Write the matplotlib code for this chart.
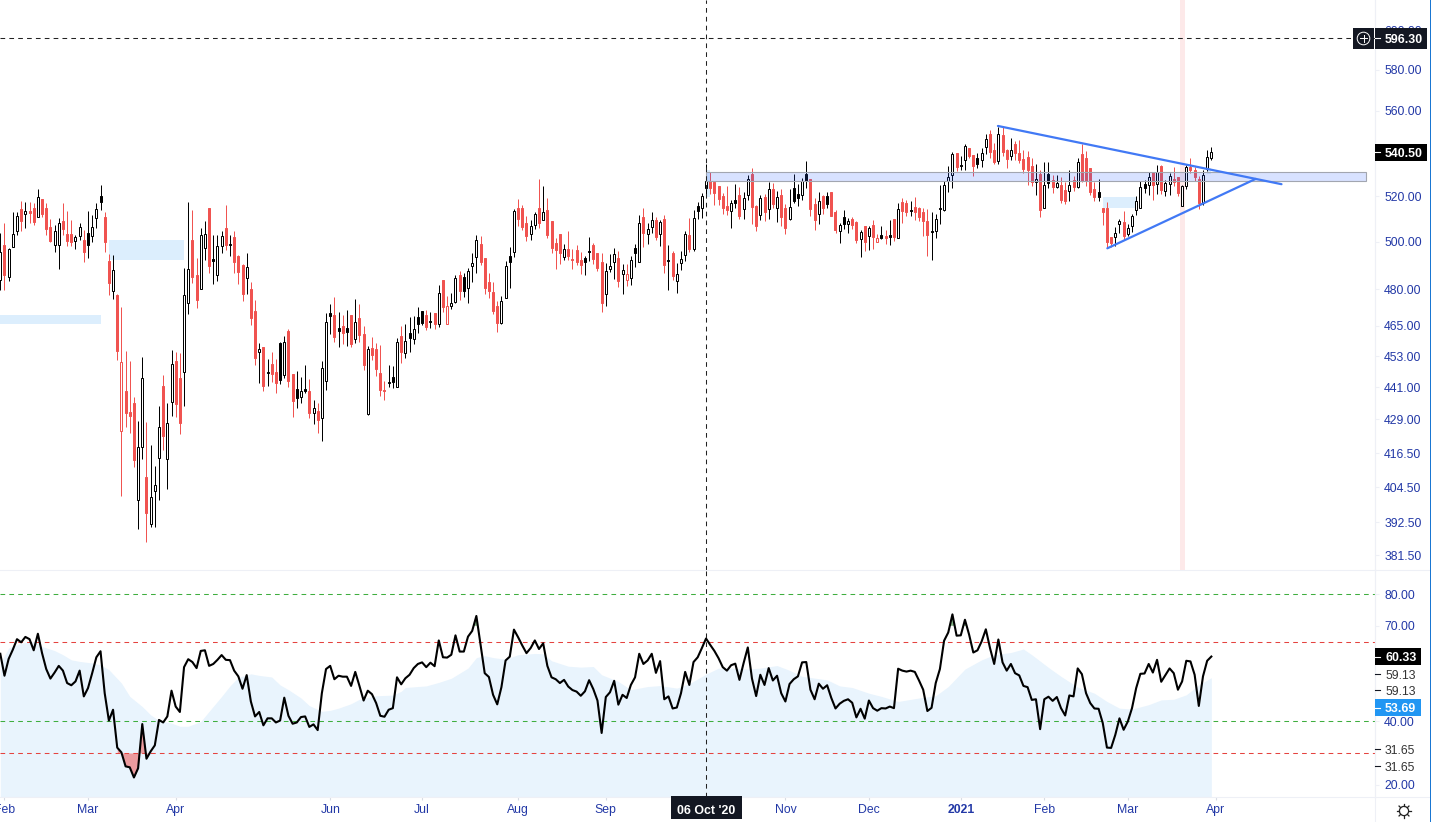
import numpy as np
from matplotlib import pyplot as plt
from matplotlib.patches import Rectangle, Circle
from matplotlib.ticker import NullLocator

plt.rcParams["font.family"] = ["Liberation Sans", "DejaVu Sans"]

# candles, one entry per trading day, values
highs = [
    503.9,508.2,497.4,513.0,513.0,518.0,517.5,517.5,517.0,523.4,
    518.8,517.0,509.9,507.3,510.4,517.0,513.5,509.5,503.0,508.2,
    505.2,513.5,511.7,517.0,525.1,513.0,494.8,494.4,477.9,472.6,
    455.0,451.1,437.3,428.3,452.7,428.0,419.6,412.0,433.9,445.7,
    435.1,455.4,454.6,454.2,488.8,517.5,513.9,493.1,506.1,509.1,
    514.8,503.0,503.0,504.8,516.2,503.0,504.8,494.4,490.5,495.2,
    483.0,475.5,458.2,456.6,451.9,454.6,451.9,458.6,461.0,463.8,
    446.1,447.2,444.9,449.5,444.2,436.2,435.1,451.1,470.2,473.9,
    476.7,470.6,469.4,471.4,469.4,475.9,473.9,465.0,457.0,460.6,
    458.2,457.4,443.4,449.5,449.1,460.2,465.0,465.8,468.6,469.0,
    472.6,471.0,471.4,470.6,470.2,481.7,483.8,477.1,478.4,485.9,
    487.6,486.7,488.8,495.2,503.0,502.5,493.1,486.7,483.0,475.1,
    477.1,491.8,497.8,514.4,518.8,516.2,511.3,509.5,513.0,527.9,
    524.7,519.3,509.1,501.7,503.4,499.1,504.8,496.9,498.6,495.6,
    493.9,502.1,499.5,495.2,495.2,490.9,494.8,497.4,496.1,490.5,
    490.5,493.9,499.1,511.7,514.8,508.2,513.0,510.8,509.5,511.7,
    498.6,496.1,490.9,496.1,504.8,510.4,513.9,517.5,521.5,534.8,
    531.1,526.9,524.7,521.5,524.7,518.4,525.6,524.2,522.0,529.7,
    532.9,516.2,520.6,521.1,526.5,526.0,522.5,523.4,516.6,523.4,
    530.2,525.6,528.3,536.1,527.9,519.3,522.0,520.6,522.0,522.0,
    513.9,508.2,513.9,510.4,510.8,509.1,505.2,506.9,506.9,509.5,
    503.4,506.9,505.2,509.5,509.9,517.0,519.3,518.4,518.0,519.7,
    515.2,514.8,514.4,513.0,512.1,525.1,526.9,533.8,540.4,539.9,
    538.5,544.1,542.2,539.0,539.9,542.2,548.8,550.7,544.6,552.1,
    552.6,541.8,546.9,545.5,546.0,541.3,540.8,537.5,534.8,532.0,
    535.7,535.7,529.7,529.7,528.8,526.5,532.0,529.2,537.5,544.1,
    540.8,532.9,526.5,527.9,514.8,517.5,502.1,506.5,509.9,513.5,
    507.8,512.1,520.2,526.9,527.4,531.1,531.1,534.3,534.3,527.4,
    530.6,533.4,528.8,525.1,534.3,537.5,533.4,529.2,532.0,541.3,
    542.7,
]
tops = [
    495.6,498.6,496.9,503.4,511.3,514.4,513.5,513.5,514.8,519.7,
    518.8,514.8,506.5,504.8,508.2,509.1,503.4,503.4,502.1,506.5,
    500.8,503.9,506.5,514.4,520.2,510.8,491.8,488.0,477.5,450.7,
    439.6,431.7,435.1,418.9,444.6,408.1,401.1,405.3,426.1,441.5,
    427.6,449.9,451.1,444.6,477.5,488.4,500.8,485.9,503.0,503.4,
    514.8,492.6,498.2,502.5,506.1,499.1,502.1,493.9,490.1,489.3,
    480.0,471.0,455.8,456.6,446.8,449.9,446.8,458.2,458.6,463.0,
    446.1,440.4,439.6,440.4,439.6,433.2,432.0,448.4,466.6,470.2,
    469.4,464.2,465.0,464.2,469.4,466.6,468.2,461.8,455.8,456.2,
    455.8,446.5,440.0,443.0,444.9,458.6,461.0,459.0,462.2,463.8,
    468.6,471.0,469.4,467.0,470.2,478.4,483.8,473.0,474.3,484.6,
    485.9,485.1,487.6,490.9,500.8,499.1,493.1,483.0,478.8,473.0,
    475.1,489.7,493.9,513.5,514.8,514.8,508.2,506.9,512.1,514.8,
    513.0,513.9,509.1,499.5,503.4,496.9,496.9,492.6,496.5,492.2,
    493.1,496.1,498.6,495.2,491.4,487.6,489.7,494.8,493.1,488.0,
    486.3,492.2,497.4,508.2,510.8,505.6,509.5,509.5,508.6,509.9,
    492.2,495.2,486.3,492.6,503.4,503.0,510.4,515.7,520.2,526.9,
    526.9,526.5,524.7,520.2,515.7,517.0,518.4,520.6,519.3,527.9,
    530.2,515.7,519.3,519.7,523.4,523.4,519.7,520.6,514.8,515.2,
    523.8,521.1,526.9,530.2,527.9,516.6,518.0,520.2,520.2,522.0,
    513.0,507.3,510.8,509.1,509.9,508.6,504.3,506.9,506.1,507.3,
    501.7,503.0,502.5,503.0,509.9,514.4,517.5,517.0,513.9,515.2,
    514.8,513.0,509.1,504.8,509.9,514.8,525.1,528.8,539.4,539.9,
    534.3,543.2,542.2,539.0,537.5,539.9,546.5,548.8,541.3,548.8,
    548.4,541.3,541.3,544.1,539.9,537.1,538.0,533.8,527.9,530.2,
    525.1,530.2,527.4,526.0,525.1,522.9,525.1,527.4,535.7,539.4,
    537.5,532.9,523.4,522.0,514.8,514.8,502.1,503.9,509.1,508.6,
    506.1,511.3,518.0,524.2,525.6,528.8,531.1,531.1,533.8,526.0,
    529.2,527.9,528.8,524.7,533.4,533.4,532.0,527.9,529.7,538.0,
    540.4,
]
bottoms = [
    483.8,485.9,485.1,497.8,504.8,509.1,512.1,512.6,508.6,510.8,
    512.1,505.6,500.4,498.6,498.6,505.6,500.4,500.0,500.4,502.5,
    495.6,498.6,502.5,510.4,517.5,500.0,482.5,479.2,455.0,424.6,
    431.3,430.2,414.2,400.1,418.9,395.7,391.9,403.2,414.9,422.8,
    414.6,435.4,434.7,427.6,446.8,474.3,485.1,475.5,480.0,497.4,
    489.7,491.8,485.9,498.2,498.6,498.6,491.4,487.2,477.9,484.6,
    468.2,452.3,454.6,441.5,446.5,446.1,442.7,443.8,445.7,443.4,
    435.8,437.0,437.3,439.6,431.3,431.3,428.7,429.4,443.4,469.0,
    460.6,463.0,462.2,462.6,457.8,459.8,461.4,449.5,430.9,453.4,
    448.0,440.0,439.6,442.7,443.0,441.1,454.6,454.2,460.2,459.8,
    465.8,466.2,464.6,466.6,465.8,465.8,472.6,465.8,473.0,474.7,
    479.2,479.2,480.4,489.7,493.5,491.4,480.4,479.2,471.0,466.2,
    466.2,476.3,491.4,495.6,509.9,506.5,502.5,503.4,507.3,508.2,
    509.5,503.0,497.4,496.5,495.2,493.5,493.9,492.2,491.4,490.1,
    491.4,495.6,492.6,488.8,474.3,477.9,488.4,491.4,483.4,486.3,
    483.8,484.6,495.2,491.4,503.9,503.4,506.5,502.1,503.4,490.1,
    491.8,485.5,483.4,490.9,494.4,496.9,496.9,513.5,514.8,523.8,
    523.8,521.5,518.8,514.8,513.9,513.5,517.0,511.3,514.4,520.6,
    515.2,506.9,511.7,513.0,514.4,516.6,514.8,510.8,506.1,509.9,
    518.0,519.3,520.6,526.9,514.4,509.5,512.1,514.8,516.6,511.3,
    505.2,504.8,507.8,507.8,507.3,500.8,501.2,500.0,502.5,502.1,
    500.0,501.7,501.7,502.1,502.1,501.7,513.5,513.0,513.5,513.0,
    510.8,509.1,503.0,504.3,504.8,514.4,513.9,526.9,529.7,533.4,
    533.8,536.6,538.5,533.8,534.8,536.6,542.7,540.4,535.7,536.1,
    540.4,537.1,538.5,539.9,536.6,532.5,532.0,526.5,526.5,513.9,
    514.8,526.0,524.2,524.2,518.4,518.0,522.5,524.2,524.2,526.9,
    526.9,522.0,519.7,519.7,513.0,500.0,499.5,502.1,507.8,502.5,
    503.4,506.9,513.9,514.8,523.8,525.1,525.1,525.6,522.9,522.5,
    525.6,526.5,521.5,515.7,524.7,532.0,528.8,517.0,517.0,532.5,
    537.5,
]
lows = [
    479.6,479.6,483.4,497.8,503.0,504.8,506.1,508.2,507.3,510.8,
    510.8,503.0,500.0,495.6,488.4,503.0,498.2,498.2,496.9,500.8,
    491.4,493.1,500.0,506.1,513.9,495.6,477.5,475.9,451.5,401.5,
    426.1,423.9,411.7,390.2,414.6,385.8,390.9,390.9,400.1,417.8,
    404.0,430.2,429.8,423.6,433.9,469.8,482.5,472.2,480.0,492.2,
    486.7,482.1,483.4,495.2,496.5,493.9,486.7,482.1,475.1,477.9,
    465.4,449.5,442.7,439.6,441.5,443.0,438.9,442.3,444.6,441.1,
    429.8,433.2,435.1,438.9,429.4,427.2,423.9,421.0,440.0,461.8,
    458.6,456.6,457.8,457.0,456.6,458.2,458.6,447.6,430.5,451.5,
    445.3,437.7,436.2,441.1,440.8,441.1,450.3,452.3,454.6,457.8,
    462.2,465.4,463.4,464.2,463.8,464.6,470.6,465.8,471.8,474.3,
    475.5,476.7,474.3,483.0,486.7,490.1,477.9,476.3,469.8,462.6,
    465.8,476.3,480.4,493.5,506.9,505.2,500.4,500.8,505.6,506.1,
    509.5,501.7,495.2,488.4,490.5,492.2,492.2,488.4,490.1,486.3,
    485.9,491.8,490.5,487.6,470.6,473.0,487.2,484.2,480.9,477.9,
    481.3,481.7,489.3,491.4,497.8,499.1,503.9,500.8,498.2,486.7,
    479.6,483.8,478.4,488.0,491.8,495.6,496.1,509.9,510.4,519.7,
    521.1,516.2,516.2,512.1,511.7,506.1,514.8,509.9,509.9,518.4,
    507.8,504.8,509.5,509.1,509.9,514.8,508.6,506.9,503.4,509.5,
    517.0,515.7,518.4,523.8,511.3,505.2,507.8,512.1,514.8,511.3,
    503.9,499.5,505.6,503.9,505.6,499.5,493.5,496.1,496.5,496.9,
    500.0,501.2,499.1,498.6,500.4,501.7,508.2,511.3,511.3,509.5,
    509.1,502.5,493.9,492.2,501.7,507.8,513.5,522.0,523.8,531.5,
    532.0,532.0,537.5,529.2,532.9,533.4,539.4,537.5,534.8,534.8,
    538.5,532.9,536.6,536.6,535.2,530.6,525.1,524.7,520.6,510.8,
    514.8,523.8,521.5,523.8,517.0,516.6,518.0,522.5,523.8,526.5,
    524.7,520.6,518.0,518.0,507.3,497.4,497.8,498.2,503.9,500.8,
    502.5,504.3,511.7,514.8,521.5,520.6,518.4,521.1,521.1,520.2,
    520.6,524.7,520.2,515.7,523.4,530.6,526.9,514.4,516.2,531.5,
    536.6,
]
# R red filled, r red hollow, K black filled, k black hollow
kinds = (
    "kRkkkRkRRk" "RRRkkRRRkk" "RKkkKRRkRr" "RRRkkRkkkR" "kkRRkkRRkk"
    "RKkkRkRRRk" "RRkRkRRKkR" "RKkKRkRkkK" "RKRKRkRRkR" "RRRkKkRkKk"
    "KKRKRkRrkk" "RKkkkRRRRR" "kkKkRRRkkR" "kRRRRkRRRR" "KKRRRkkkRk"
    "rkKkRkkRkR" "KRkkkRkKkk" "RRRRRkKRkk" "RRkRkRkRRk" "KKkKRRkRKR"
    "RkKkRRkRkR" "rKRKRkRRKR" "RRRKkKkkkR" "KkRRKkkRRk" "RRkRRRRRkR"
    "kKRkRRkRkR" "RRRKRRRkkR" "kkkkKkRkRk" "kRRkkRRRkk" "k"
)

rsi = [
    61.2,54.3,59.6,62.5,65.8,64.8,66.5,65.8,62.3,67.5,
    61.4,56.4,53.4,55.3,57.4,55.9,52.0,51.3,52.5,55.9,
    47.8,50.4,55.1,60.1,62.0,48.8,40.2,43.6,31.7,30.2,
    25.8,25.5,22.3,25.2,39.1,28.2,30.5,32.4,40.4,39.6,
    41.5,49.6,44.6,42.9,57.0,59.5,58.6,56.7,62.1,62.3,
    57.4,58.0,59.3,60.8,59.3,59.2,55.9,54.1,50.2,54.5,
    46.2,41.5,42.9,38.7,40.9,40.9,39.6,40.2,47.4,41.7,
    39.2,39.6,41.3,41.5,38.2,39.0,37.2,48.8,56.4,57.4,
    53.2,54.3,54.0,54.0,51.1,55.5,51.1,
    46.5,49.6,48.5,45.7,41.7,41.4,43.6,44.1,53.8,51.6,
    53.5,54.6,56.7,58.0,58.5,57.0,58.4,57.3,65.4,60.1,
    60.0,60.9,67.0,61.9,61.9,66.6,68.4,73.1,64.0,55.1,
    53.9,48.3,45.3,50.7,59.1,60.3,68.8,66.4,63.8,61.4,
    63.0,65.4,62.7,64.5,57.4,53.8,53.2,52.0,53.0,50.9,
    49.8,49.3,48.0,49.4,52.9,50.1,46.5,36.3,47.6,49.1,
    52.7,45.2,48.3,47.3,51.4,53.8,61.2,58.0,59.1,61.2,
    55.2,58.9,46.9,47.8,44.0,44.3,48.8,55.5,51.4,58.6,
    60.1,63.0,66.0,64.0,62.1,59.8,57.0,55.9,57.6,58.1,
    53.0,58.3,63.2,53.4,47.9,54.6,
    51.4,56.7,52.8,54.3,48.8,46.2,51.7,53.2,54.1,58.5,
    58.6,49.9,46.9,51.8,50.2,51.3,47.3,44.0,45.5,46.4,
    46.9,45.8,41.2,43.9,40.8,46.5,44.1,43.3,44.1,44.0,
    44.6,44.1,56.5,55.9,55.6,55.9,55.5,52.8,49.9,43.2,
    44.2,52.0,56.4,65.3,67.9,73.6,66.9,67.0,71.9,67.2,
    61.6,62.3,65.1,68.9,63.0,58.0,65.7,58.5,55.9,58.0,
    55.1,54.4,51.1,50.7,46.7,46.9,37.5,46.9,47.7,46.4,
    47.6,44.1,41.8,48.1,47.8,56.6,54.8,48.8,45.7,44.0,
    43.9,39.4,31.7,31.6,35.7,40.9,37.3,39.9,44.1,50.4,
    54.9,55.0,58.0,55.3,59.3,52.4,54.5,56.6,55.1,49.9,
    52.5,59.0,58.8,54.6,44.8,54.1,59.0,60.33,
]

# smoothed RSI, upper edge of the shaded area, read at these bars
ema_bars = [
    0,2,5,8,10,13,15,17,19,22,24,26,29,31,34,36,38,41,43,45,48,50,53,55,57,60,62,65,67,69,
    72,74,77,79,81,84,86,90,94,96,97,102,105,108,112,114,116,118,121,124,128,130,132,136,
    139,142,144,148,151,155,158,162,165,169,172,175,179,182,186,189,192,198,201,204,208,
    211,215,220,224,227,231,235,238,242,245,247,251,254,258,262,265,268,271,275,278,281,
    284,287,290,
]
ema_vals = [
    58.3,63.0,64.5,65.1,63.5,62.2,60.9,59.3,58.8,58.3,57.7,56.2,52.0,47.8,44.6,42.0,40.2,
    39.4,38.4,38.4,39.9,43.1,47.8,51.1,53.8,54.9,54.4,53.9,51.4,49.9,47.3,44.9,43.1,43.4,
    44.1,45.5,46.9,48.0,48.2,49.4,50.6,51.1,52.2,53.5,56.7,60.0,60.6,60.0,59.5,60.9,61.3,
    61.2,59.0,57.3,57.0,57.2,54.6,52.5,49.9,50.9,51.2,50.4,51.8,54.8,56.7,56.7,56.4,56.7,
    57.5,56.0,54.1,53.0,51.1,50.6,48.8,47.8,46.2,47.3,48.0,50.9,56.4,59.3,60.9,61.6,62.7,
    60.9,56.9,54.1,50.7,48.8,46.2,44.1,43.8,45.2,46.7,46.9,48.3,51.4,53.69,
]

price_ticks = [600, 580, 560, 520, 500, 480, 465, 453, 441, 429, 416.5, 404.5, 392.5, 381.5]
rsi_ticks = [80, 70, 40, 20]
month_bars = [1, 21, 42, 79, 101, 124, 145, 188, 208, 230, 250, 270, 291]
month_labels = ["Feb", "Mar", "Apr", "Jun", "Jul", "Aug", "Sep", "Nov", "Dec", "2021", "Feb", "Mar", "Apr"]

cross_bar = 169
cross_label = "06 Oct '20"
cross_price = 596.30
last_price = 540.50
rsi_last = 60.33
ema_last = 53.69
rsi_upper, rsi_lower = 65, 30
rsi_high, rsi_low = 80, 40
pane_labels = ["59.13", "59.13", "31.65", "31.65"]

# drawings: (first bar, last bar, top price, bottom price)
light_zones = [(-1, 24, 469.4, 465.9), (26, 44, 500.8, 492.0), (169, 170, 532.0, 519.7),
               (264, 272, 519.7, 514.8), (289, 290, 532.9, 530.2)]
band = (169, 327, 531.0, 526.9)
pink_stripe = (282.5, 283.7)
trend_down = ([238.9, 306.8], [552.6, 525.5])
trend_up = ([265.1, 300.6], [497.2, 527.9])

RED = "#f05350"
BLACK = "#000000"
AXIS_BLUE = "#2238a6"
PANE_LINE = "#eef0f6"
W, H = 1431, 822
STEP = 4.176

fig = plt.figure(figsize=(W / 100, H / 100), dpi=100)
ax = fig.add_axes([0, (H - 570) / H, 1375 / W, 570 / H])
ax2 = fig.add_axes([0, (H - 797) / H, 1375 / W, 227 / H])

xlim = (-0.3 / STEP, (1375 - 0.3) / STEP)
bars = np.arange(len(highs))

# main pane
ax.set_yscale("log")
ax.set_xlim(*xlim)
ax.set_ylim(376.6, 616.1)
ax.axvspan(pink_stripe[0], pink_stripe[1], color="#fde9e9", lw=0, zorder=1)
for z in light_zones:
    ax.add_patch(Rectangle((z[0], z[3]), z[1] - z[0], z[2] - z[3], facecolor="#dceefd", lw=0, zorder=1))

for i in bars:
    col = RED if kinds[i] in "Rr" else BLACK
    face = "white" if kinds[i] in "rk" else col
    ax.vlines(i, lows[i], highs[i], color=col, lw=0.72, zorder=3)
    ax.bar(i, tops[i] - bottoms[i], bottom=bottoms[i], width=2.0 / STEP,
           facecolor=face, edgecolor=col, lw=0.72, zorder=4)

ax.add_patch(Rectangle((band[0], band[3]), band[1] - band[0], band[2] - band[3],
                       facecolor=(0.16, 0.38, 1.0, 0.18), edgecolor="#a2a6b0", lw=0.8, zorder=5))
ax.plot(trend_down[0], trend_down[1], color="#4179f5", lw=1.6, zorder=6, solid_capstyle="round")
ax.plot(trend_up[0], trend_up[1], color="#4179f5", lw=1.6, zorder=6, solid_capstyle="round")

dash = (0, (4.5, 4))
ax.axhline(cross_price, color="#222222", lw=0.75, linestyle=dash, zorder=7)
ax.axvline(cross_bar, color="#222222", lw=0.75, linestyle=dash, zorder=7)

ax.set_xticks([])
ax.yaxis.tick_right()
ax.yaxis.set_minor_locator(NullLocator())
ax.set_yticks(price_ticks, [f"{p:.2f}" for p in price_ticks])
ax.tick_params(axis="y", length=3, width=0.8, color=PANE_LINE, pad=3.6, labelsize=8.8, labelcolor=AXIS_BLUE)

# RSI pane
ax2.set_xlim(*xlim)
ax2.set_ylim(16.16, 87.55)
ax2.fill_between(ema_bars, ema_vals, 16.16, color="#e9f4fd", lw=0, zorder=1)
for lev, col in [(rsi_high, "#3fae3f"), (rsi_low, "#3fae3f"), (rsi_upper, "#e5433f"), (rsi_lower, "#e5433f")]:
    ax2.axhline(lev, color=col, lw=0.75, linestyle=dash, zorder=2)

rsi_arr = np.array(rsi)
ax2.fill_between(bars, rsi_arr, rsi_lower, where=(bars >= 28) & (bars <= 36), interpolate=True,
                 color="#ee5350", alpha=0.55, lw=0, zorder=2)
ax2.fill_between(bars, rsi_arr, 70, where=rsi_arr >= 70, interpolate=True, color="#2e7d32", alpha=0.6, lw=0, zorder=2)
ax2.plot(bars, rsi, color="black", lw=1.5, zorder=4, solid_joinstyle="round")
ax2.axvline(cross_bar, color="#222222", lw=0.75, linestyle=dash, zorder=7)

ax2.yaxis.tick_right()
ax2.set_yticks(rsi_ticks, [f"{v:.2f}" for v in rsi_ticks])
ax2.tick_params(axis="y", length=3, width=0.8, color=PANE_LINE, pad=3.6, labelsize=8.8, labelcolor=AXIS_BLUE)
ax2.set_xticks(month_bars, month_labels)
ax2.tick_params(axis="x", length=2.5, width=0.8, color="#d8dbe4", pad=2.6, labelsize=8.8, labelcolor=AXIS_BLUE)
for lab in ax2.get_xticklabels():
    if lab.get_text() == "2021":
        lab.set_fontweight("bold")

for a in (ax, ax2):
    for s in a.spines.values():
        s.set_visible(False)
    a.spines["right"].set_visible(True)
    a.spines["right"].set_color(PANE_LINE)

# overlay in pixel coordinates for the scale labels and icons
ov = fig.add_axes([0, 0, 1, 1], zorder=10)
ov.set_xlim(0, W)
ov.set_ylim(H, 0)
ov.axis("off")
ov.patch.set_alpha(0)

ov.plot([0, W], [570, 570], color=PANE_LINE, lw=0.8, zorder=1)
ov.plot([0, W], [797, 797], color=PANE_LINE, lw=0.8, zorder=1)
ov.plot([1375, 1375], [0, 822], color=PANE_LINE, lw=0.8, zorder=1)
ov.add_patch(Rectangle((1429.5, 0), 1.5, H, facecolor="#1976d2", lw=0))


def price_box(x0, y0, x1, y1, text, color, tick="white", xt=1385):
    ov.add_patch(Rectangle((x0, y0), x1 - x0, y1 - y0, facecolor=color, lw=0, zorder=5))
    ym = (y0 + y1) / 2
    ov.plot([x0, x0 + 5], [ym, ym], color=tick, lw=0.8, zorder=6)
    ov.text(xt, ym, text, color="white", fontsize=8.9, fontweight="bold", va="center_baseline", ha="left", zorder=6)


# crosshair price label and its plus button
ov.add_patch(Rectangle((1353, 28), 21, 21, facecolor="#131722", lw=0, zorder=5))
ov.add_patch(Circle((1363.5, 38.5), 6.3, facecolor="none", edgecolor="white", lw=0.7, zorder=6))
ov.plot([1360, 1367], [38.5, 38.5], color="white", lw=0.7, zorder=6)
ov.plot([1363.5, 1363.5], [35, 42], color="white", lw=0.7, zorder=6)
price_box(1375, 28, 1427, 49, f"{cross_price:.2f}", "#131722")
price_box(1375, 144, 1427, 161, f"{last_price:.2f}", "#000000")
price_box(1375, 648, 1421, 665, f"{rsi_last:.2f}", "#000000")
price_box(1375, 699, 1421, 716, f"{ema_last:.2f}", "#2196f3")

for yp, t in zip([674, 690, 749, 766], pane_labels):
    ov.plot([1375, 1380], [yp, yp], color="#131722", lw=0.8, zorder=6)
    ov.text(1385, yp, t, color="#333333", fontsize=8.8, va="center_baseline", ha="left", zorder=6)

# date label of the crosshair
ov.add_patch(Rectangle((671, 796), 71, 23, facecolor="#131722", lw=0, zorder=5))
ov.text(706.5, 809.5, cross_label, color="white", fontsize=8.9, fontweight="bold", ha="center", va="center_baseline", zorder=6)

# settings gear
ov.add_patch(Circle((1404, 811), 4.6, facecolor="none", edgecolor="#222222", lw=0.9, zorder=6))
for ang in np.arange(0, 360, 45):
    c, s = np.cos(np.radians(ang)), np.sin(np.radians(ang))
    ov.plot([1404 + 4.6 * c, 1404 + 7 * c], [811 + 4.6 * s, 811 + 7 * s], color="#222222", lw=0.9, zorder=6)

fig.savefig("out.png", dpi=100)
